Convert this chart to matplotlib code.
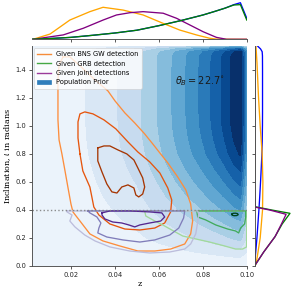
import numpy as np
import matplotlib
matplotlib.use("Agg")
import matplotlib.pyplot as plt
from matplotlib.lines import Line2D
from matplotlib.patches import Patch

theta_b = np.deg2rad(22.7)

# population prior marginals
prior_z_pts = [0.0023, 0.01, 0.02, 0.03, 0.04, 0.05, 0.06, 0.07, 0.08, 0.085, 0.09, 0.094, 0.097, 0.0999]
prior_z_dens = [0.05, 0.4, 1.1, 2.3, 3.6, 5.2, 7.8, 10.7, 13.9, 15.8, 17.8, 19.8, 20.9, 12.0]
prior_i_pts = [0, 0.1, 0.2, 0.3, 0.4, 0.5, 0.6, 0.7, 0.8, 0.9, 1.0, 1.1, 1.2, 1.3, 1.4, 1.5, 1.53, 1.55, 1.5708]
prior_i_dens = [0, 0.17, 0.34, 0.48, 0.62, 0.74, 0.85, 0.95, 1.04, 1.09, 1.12, 1.13, 1.13, 1.13, 1.13, 1.12, 1.08, 0.85, 0.42]

# z marginals
gw_z_pts = [0.0028, 0.0105, 0.0195, 0.0286, 0.0346, 0.0437, 0.0528, 0.0619, 0.0694, 0.077, 0.083, 0.086, 0.1]
gw_z_dens = [0, 3.0, 11.0, 15.8, 18.3, 16.7, 13.9, 9.1, 5.3, 2.5, 0.6, 0.1, 0]
grb_z_dens = [0.05, 0.4, 1.1, 2.3, 3.6, 5.2, 7.8, 10.7, 13.9, 15.8, 17.8, 19.6, 19.8, 11.0]
joint_z_pts = [0.0028, 0.0165, 0.0256, 0.0346, 0.0407, 0.0468, 0.0528, 0.0619, 0.068, 0.074, 0.0801, 0.0861, 0.0907, 0.1]
joint_z_dens = [0, 2.5, 6.3, 11.0, 13.9, 15.2, 15.8, 14.9, 12.0, 8.2, 4.3, 1.1, 0, 0]

# inclination marginals
gw_i_pts = [0, 0.05, 0.2, 0.4, 0.6, 0.8, 1.0, 1.21, 1.45, 1.5708]
gw_i_dens = [0.1, 0.34, 0.8, 1.13, 1.18, 1.08, 0.8, 0.56, 0.35, 0.2]
grb_i_pts = [0, 0.1, 0.21, 0.3, 0.376, 0.40, 0.423, 0.5, 1.0, 1.5708]
grb_i_dens = [0.0, 1.3, 2.9, 3.9, 5.0, 2.4, 0.1, 0.03, 0.02, 0.02]
joint_i_pts = [0, 0.1, 0.21, 0.3, 0.369, 0.40, 0.42, 0.5, 1.0, 1.5708]
joint_i_dens = [0.0, 1.3, 2.9, 3.8, 4.45, 2.1, 0.1, 0.03, 0.02, 0.02]

# 2D contours (z, inclination)
gw_outer_z = [0.0164, 0.0195, 0.0241, 0.0309, 0.0368, 0.0400, 0.0445, 0.0490, 0.0535, 0.0572, 0.0604, 0.0640,
              0.0685, 0.0722, 0.0744, 0.0753, 0.0744, 0.0717, 0.0653, 0.0581, 0.0504, 0.0422, 0.0345, 0.0286,
              0.0241, 0.0209, 0.0200, 0.0186, 0.0173, 0.0159, 0.0146, 0.0141, 0.0141, 0.0141, 0.0146, 0.0164]
gw_outer_i = [1.493, 1.493, 1.429, 1.329, 1.250, 1.179, 1.093, 1.021, 0.943, 0.871, 0.807, 0.736,
              0.636, 0.543, 0.443, 0.321, 0.229, 0.157, 0.121, 0.107, 0.107, 0.143, 0.179, 0.229,
              0.321, 0.386, 0.443, 0.564, 0.679, 0.800, 0.900, 1.043, 1.186, 1.329, 1.436, 1.493]
gw_mid_z = [0.0241, 0.0254, 0.0286, 0.0295, 0.0304, 0.0327, 0.0377, 0.0445, 0.0513, 0.0581, 0.0626, 0.0653,
            0.0658, 0.0640, 0.0604, 0.0558, 0.0504, 0.0459, 0.0404, 0.0350, 0.0300, 0.0263, 0.0241, 0.0232,
            0.0232, 0.0241]
gw_mid_i = [0.800, 0.679, 0.564, 0.493, 0.421, 0.364, 0.300, 0.264, 0.257, 0.271, 0.307, 0.386,
            0.471, 0.557, 0.664, 0.743, 0.814, 0.886, 0.979, 1.043, 1.086, 1.100, 1.086, 1.029,
            0.914, 0.800]
gw_inner_z = [0.0322, 0.0350, 0.0377, 0.0413, 0.0454, 0.0486, 0.0504, 0.0526, 0.0535, 0.0526, 0.0508,
              0.0495, 0.0486, 0.0459, 0.0431, 0.0409, 0.0386, 0.0363, 0.0341, 0.0322, 0.0322]
gw_inner_i = [0.843, 0.857, 0.857, 0.829, 0.800, 0.757, 0.700, 0.629, 0.564, 0.514, 0.493,
              0.507, 0.557, 0.579, 0.564, 0.521, 0.529, 0.586, 0.671, 0.750, 0.843]

joint_outer_z = [0.0182, 0.0776, 0.0780, 0.0776, 0.0767, 0.0744, 0.0717, 0.0649, 0.0558, 0.0467, 0.0377,
                 0.0309, 0.0263, 0.0218, 0.0195, 0.0205, 0.0182, 0.0182]
joint_outer_i = [0.393, 0.393, 0.371, 0.314, 0.229, 0.157, 0.121, 0.100, 0.093, 0.107, 0.136,
                 0.179, 0.221, 0.279, 0.321, 0.364, 0.386, 0.393]
joint_mid_z = [0.0277, 0.0717, 0.0712, 0.0690, 0.0649, 0.0581, 0.0513, 0.0436, 0.0363, 0.0322, 0.0327,
               0.0336, 0.0318, 0.0286, 0.0277]
joint_mid_i = [0.393, 0.393, 0.343, 0.271, 0.221, 0.186, 0.171, 0.186, 0.207, 0.236, 0.271,
               0.307, 0.350, 0.379, 0.393]
joint_inner_z = [0.0341, 0.0377, 0.0467, 0.0558, 0.0613, 0.0626, 0.0608, 0.0558, 0.0513, 0.0490, 0.0463,
                 0.0431, 0.0390, 0.0354, 0.0341, 0.0341]
joint_inner_i = [0.379, 0.393, 0.393, 0.386, 0.379, 0.350, 0.321, 0.307, 0.293, 0.279, 0.293,
                 0.307, 0.314, 0.336, 0.364, 0.379]

grb_outer_z = [0.0535, 0.0540, 0.0581, 0.0617, 0.0658, 0.0708, 0.0767, 0.0830, 0.0898, 0.0948, 0.0980,
               0.0998, 0.0999, 0.0535]
grb_outer_i = [0.393, 0.357, 0.321, 0.293, 0.257, 0.214, 0.193, 0.171, 0.143, 0.121, 0.121,
               0.136, 0.393, 0.393]
grb_mid_z = [0.0772, 0.0776, 0.0812, 0.0858, 0.0912, 0.0948, 0.0962, 0.0971, 0.0989, 0.0994, 0.0994, 0.0772]
grb_mid_i = [0.393, 0.350, 0.329, 0.293, 0.264, 0.250, 0.236, 0.271, 0.300, 0.350, 0.393, 0.393]
grb_inner_z = [0.0931, 0.0937, 0.0947, 0.0957, 0.0960, 0.0953, 0.0941, 0.0932, 0.0931]
grb_inner_i = [0.370, 0.376, 0.377, 0.374, 0.366, 0.360, 0.359, 0.363, 0.370]

fig = plt.figure(figsize=(5.98, 5.86), dpi=50)
ax = fig.add_axes([0.107, 0.0922, 0.7191, 0.7509])
ax_top = fig.add_axes([0.107, 0.8659, 0.7191, 0.1341], sharex=ax)
ax_right = fig.add_axes([0.8512, 0.0922, 0.1488, 0.7509], sharey=ax)

# prior density as product of its marginals
dens = np.outer(prior_i_dens, prior_z_dens)
levels = np.linspace(0, dens.max(), 12)
blues = plt.cm.Blues(np.linspace(0.06, 1.0, 11))
ax.set_facecolor(blues[0])
ax.contourf(prior_z_pts, prior_i_pts, dens, levels=levels, colors=blues)

oranges = ["#fd8d3c", "#e6550d", "#a63603"]
purples = ["#bcbddc", "#807dba", "#54278f"]
greens = ["#a1d99b", "#41ab5d", "#00441b"]
lw = 1.9
ax.plot(gw_outer_z, gw_outer_i, color=oranges[0], lw=lw)
ax.plot(gw_mid_z, gw_mid_i, color=oranges[1], lw=lw)
ax.plot(gw_inner_z, gw_inner_i, color=oranges[2], lw=lw)
ax.plot(grb_outer_z, grb_outer_i, color=greens[0], lw=lw)
ax.plot(grb_mid_z, grb_mid_i, color=greens[1], lw=lw)
ax.plot(grb_inner_z, grb_inner_i, color=greens[2], lw=lw)
ax.plot(joint_outer_z, joint_outer_i, color=purples[0], lw=lw)
ax.plot(joint_mid_z, joint_mid_i, color=purples[1], lw=lw)
ax.plot(joint_inner_z, joint_inner_i, color=purples[2], lw=lw)

ax.axhline(theta_b, color="gray", ls=":", lw=2.0, alpha=0.9)
ax.text(0.0785, 1.32, r"$\theta_B = 22.7^{\circ}$", fontsize=14, ha="center", va="center", color="0.1")

ax.set_xlim(0.0023, 0.1)
ax.set_ylim(0, np.pi / 2)
ax.set_xticks([0.02, 0.04, 0.06, 0.08, 0.10])
ax.set_xticklabels(["0.02", "0.04", "0.06", "0.08", "0.10"])
ax.set_yticks(np.arange(0, 1.5, 0.2))
ax.set_yticklabels([f"{t:.1f}" for t in np.arange(0, 1.5, 0.2)])
ax.set_xlabel("z", family="DejaVu Serif", fontsize=11.5)
ax.set_ylabel(r"Inclination, $\iota$ in radians", family="DejaVu Serif", fontsize=11.5)
for s in ["top", "right"]:
    ax.spines[s].set_visible(False)
for s in ["left", "bottom"]:
    ax.spines[s].set_color("0.3")
    ax.spines[s].set_linewidth(1.3)
ax.tick_params(direction="out", length=4.5, width=1.3, color="0.3", labelsize=9.8, labelcolor="0.15")

handles = [Line2D([], [], color="#f58c3a", lw=2),
           Line2D([], [], color="#44a844", lw=2),
           Line2D([], [], color="#9a3a9a", lw=2),
           Patch(color="#2f7ebc")]
ax.legend(handles, ["Given BNS GW detection", "Given GRB detection", "Given joint detections", "Population Prior"],
          loc="upper left", fontsize=9.6, framealpha=0.8, borderaxespad=0.3, handlelength=2,
          labelspacing=0.5, borderpad=0.5)

# top marginal
mlw = 1.9
ax_top.plot(prior_z_pts, prior_z_dens, color="blue", lw=mlw)
ax_top.plot(gw_z_pts, gw_z_dens, color="orange", lw=mlw)
ax_top.plot(joint_z_pts, joint_z_dens, color="purple", lw=mlw)
ax_top.plot(prior_z_pts, grb_z_dens, color="green", lw=mlw)
ax_top.set_ylim(0, 22.46)
for s in ["top", "right", "left"]:
    ax_top.spines[s].set_visible(False)
ax_top.spines["bottom"].set_color("0.3")
ax_top.spines["bottom"].set_linewidth(1.3)
ax_top.tick_params(axis="x", direction="out", length=4.5, width=1.3, color="0.3", labelbottom=False)
ax_top.tick_params(axis="y", left=False, labelleft=False)

# right marginal
ax_right.plot(prior_i_dens, prior_i_pts, color="blue", lw=mlw)
ax_right.plot(gw_i_dens, gw_i_pts, color="orange", lw=mlw)
ax_right.plot(grb_i_dens, grb_i_pts, color="green", lw=mlw)
ax_right.plot(joint_i_dens, joint_i_pts, color="purple", lw=mlw)
ax_right.set_xlim(0, 6.27)
for s in ["top", "right", "bottom"]:
    ax_right.spines[s].set_visible(False)
ax_right.spines["left"].set_color("0.3")
ax_right.spines["left"].set_linewidth(1.3)
ax_right.tick_params(axis="y", direction="out", length=4.5, width=1.3, color="0.3", labelleft=False)
ax_right.tick_params(axis="x", bottom=False, labelbottom=False)

fig.savefig("out.png", dpi=50)
